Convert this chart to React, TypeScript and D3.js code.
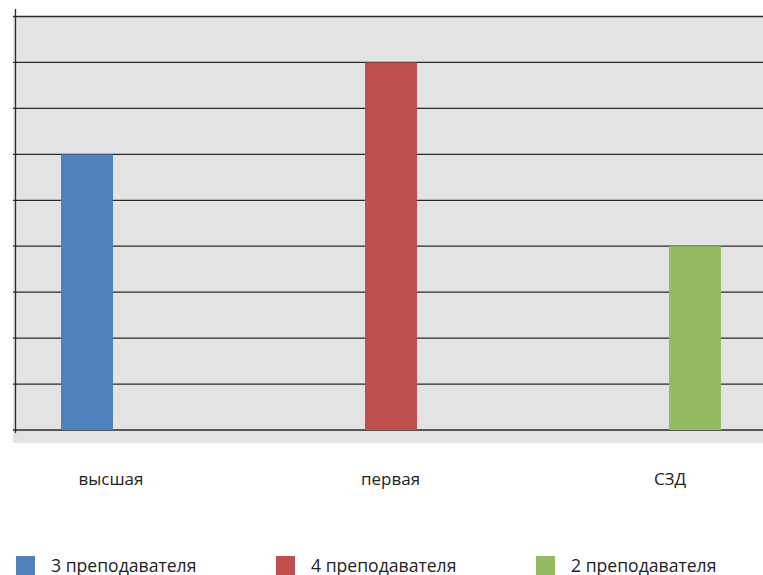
import React from "react";
import * as d3 from "d3";

const categories = ["высшая", "первая", "СЗД"];
const values = [3, 4, 2];
const colors = ["#4F81BD", "#C0504D", "#94BB62"];
const legendLabels = ["3 преподавателя", "4 преподавателя", "2 преподавателя"];
const yTicks = d3.range(0, 4.51, 0.5);

const W = 763;
const H = 575;

export default function App() {
  const x = d3.scaleBand<string>().domain(categories).range([-65, 847]).paddingInner(0).paddingOuter(0);
  const y = d3.scaleLinear().domain([0, 4.5]).range([430, 16.5]);
  const barW = 52;
  const labelX = d3.scalePoint<string>().domain(categories).range([111, 670]);
  const legendX = d3.scalePoint<string>().domain(legendLabels).range([16, 536]);
  const font = "'Open Sans', 'DejaVu Sans', sans-serif";

  return (
    <svg width={W} height={H} style={{ position: "absolute", left: 0, top: 0 }}>
      <rect x={13} y={16} width={W - 13} height={427} fill="#E3E3E3" />
      {yTicks.map((t) => (
        <line key={t} x1={13} x2={W} y1={y(t)} y2={y(t)} stroke="#2a2a2a" strokeWidth={1.3} />
      ))}
      {categories.map((c, i) => (
        <rect
          key={c}
          x={x(c)! + x.bandwidth() / 2 - barW / 2}
          y={y(values[i])}
          width={barW}
          height={y(0) - y(values[i])}
          fill={colors[i]}
        />
      ))}
      <line x1={15.5} x2={15.5} y1={9} y2={433} stroke="#2a2a2a" strokeWidth={1.3} />
      {categories.map((c) => (
        <text key={c} x={labelX(c)} y={485} textAnchor="middle" fontFamily={font} fontSize={17} fill="#222">
          {c}
        </text>
      ))}
      {legendLabels.map((l, i) => (
        <g key={l} transform={`translate(${legendX(l)},0)`}>
          <rect x={0} y={556} width={19} height={19} fill={colors[i]} />
          <text x={35} y={572} fontFamily={font} fontSize={17.6} fill="#222">
            {l}
          </text>
        </g>
      ))}
    </svg>
  );
}
